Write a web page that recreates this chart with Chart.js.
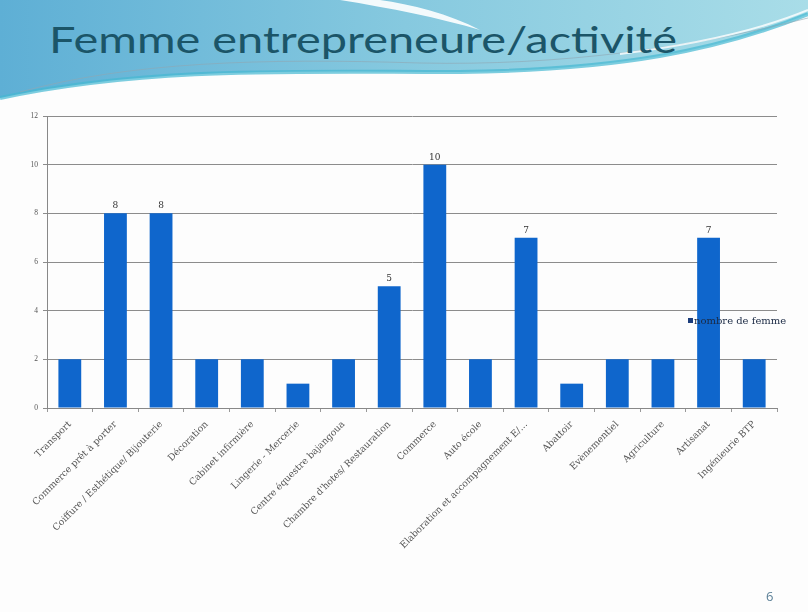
<!DOCTYPE html>
<html>
<head>
<meta charset="utf-8">
<script src="https://cdn.jsdelivr.net/npm/chart.js@4/dist/chart.umd.min.js"></script>
<style>
  html, body { margin: 0; padding: 0; }
  body { width: 808px; height: 612px; position: relative; overflow: hidden; background: #fdfdfd; font-family: "Liberation Serif", serif; }
  #bg { position: absolute; left: 0; top: 0; }
  #title { position: absolute; left: 49px; top: 16px; font-family: Lato, sans-serif; font-size: 37px; line-height: 46px; color: #1b5568; white-space: nowrap; transform-origin: 0 0; }
  #chartBox { position: absolute; left: 0; top: 0; width: 808px; height: 612px; }
  #legend { position: absolute; left: 688px; top: 315px; font-family: "DejaVu Serif", serif; font-size: 10px; color: #1b2a44; white-space: nowrap; }
  #legend span.sw { display: inline-block; width: 5px; height: 5px; background: #1b3d7c; margin-right: 1px; vertical-align: 1px; }
  #page { position: absolute; left: 766px; top: 587px; font-family: "Open Sans", sans-serif; font-size: 13px; color: #5a7f96; }
</style>
</head>
<body>
<svg id="bg" width="808" height="612">
  <defs>
    <linearGradient id="band" x1="0" y1="0" x2="1" y2="0">
      <stop offset="0" stop-color="#5eafd5"/>
      <stop offset="0.5" stop-color="#86c9df"/>
      <stop offset="1" stop-color="#a9dde8"/>
    </linearGradient>
  </defs>
  <path d="M0,0 L808,0 L808,14 C720,50 620,70 460,72 C300,72 150,66 0,98 Z" fill="url(#band)"/>
  <path d="M0,98 C150,66 300,72 460,72 C620,70 720,50 808,14" stroke="#45b8d2" stroke-width="4" fill="none" opacity="0.7"/>
  <path d="M340,0 C390,8 440,18 480,30 C450,14 410,4 380,0 Z" fill="#ffffff" opacity="0.9"/>
  <path d="M20,92 C130,62 260,58 420,63 C560,66 690,48 808,18" stroke="#8fa7b2" stroke-width="1" fill="none" opacity="0.6"/>
  <path d="M620,54 C700,44 760,30 808,10" stroke="#ffffff" stroke-width="2" fill="none" opacity="0.8"/>
</svg>
<div id="title">Femme entrepreneure/activité</div>
<div id="chartBox"><canvas id="chart" width="808" height="612"></canvas></div>
<div id="legend"><span class="sw"></span>nombre de femme</div>
<div id="page">6</div>
<script>
const categories = [
  'Transport',
  'Commerce prêt à porter',
  'Coiffure / Esthétique/ Bijouterie',
  'Décoration',
  'Cabinet infirmière',
  'Lingerie - Mercerie',
  'Centre équestre bajangoua',
  "Chambre d'hotes/ Restauration",
  'Commerce',
  'Auto école',
  'Elaboration et accompagnement E/...',
  'Abattoir',
  'Evènementiel',
  'Agriculture',
  'Artisanat',
  'Ingénieurie BTP'
];
const nombreDeFemme = [2, 8, 8, 2, 2, 1, 2, 5, 10, 2, 7, 1, 2, 2, 7, 2];
const yTicks = [0, 2, 4, 6, 8, 10, 12];

// stretch the heading to the slide's title width
const title = document.getElementById('title');
title.style.transform = 'scaleX(' + (628 / title.getBoundingClientRect().width) + ')';

// value labels above the taller bars
const valueLabels = {
  id: 'valueLabels',
  afterDatasetsDraw(chart) {
    const ctx = chart.ctx;
    const meta = chart.getDatasetMeta(0);
    ctx.save();
    ctx.font = '9px "DejaVu Serif", serif';
    ctx.fillStyle = '#333';
    ctx.textAlign = 'center';
    ctx.textBaseline = 'bottom';
    meta.data.forEach((bar, i) => {
      const v = nombreDeFemme[i];
      if (v >= 5) ctx.fillText(String(v), bar.x, bar.y - 3);
    });
    ctx.restore();
  }
};

new Chart(document.getElementById('chart'), {
  type: 'bar',
  data: {
    labels: categories,
    datasets: [{
      label: 'nombre de femme',
      data: nombreDeFemme,
      backgroundColor: '#0f66cc',
      borderWidth: 0,
      barPercentage: 0.5,
      categoryPercentage: 1.0
    }]
  },
  options: {
    responsive: false,
    animation: false,
    layout: { padding: { left: 20, top: 116, right: 31, bottom: 50 } },
    plugins: { legend: { display: false }, tooltip: { enabled: false } },
    scales: {
      x: {
        afterFit: (s) => { s.height = 154; },
        grid: { drawOnChartArea: false, color: '#999', tickLength: 4, offset: true },
        border: { color: '#888' },
        ticks: {
          minRotation: 45, maxRotation: 45, autoSkip: false,
          color: '#555', padding: 7,
          font: { family: '"DejaVu Serif", serif', size: 9.3 }
        }
      },
      y: {
        min: 0, max: 12,
        afterFit: (s) => { s.width = 27; },
        afterBuildTicks: (s) => { s.ticks = yTicks.map(v => ({ value: v })); },
        grid: { color: '#8c8c8c', tickLength: 4 },
        border: { color: '#888' },
        ticks: { color: '#555', padding: 5, font: { family: '"Liberation Serif", serif', size: 7.5 } }
      }
    }
  },
  plugins: [valueLabels]
});
</script>
</body>
</html>
